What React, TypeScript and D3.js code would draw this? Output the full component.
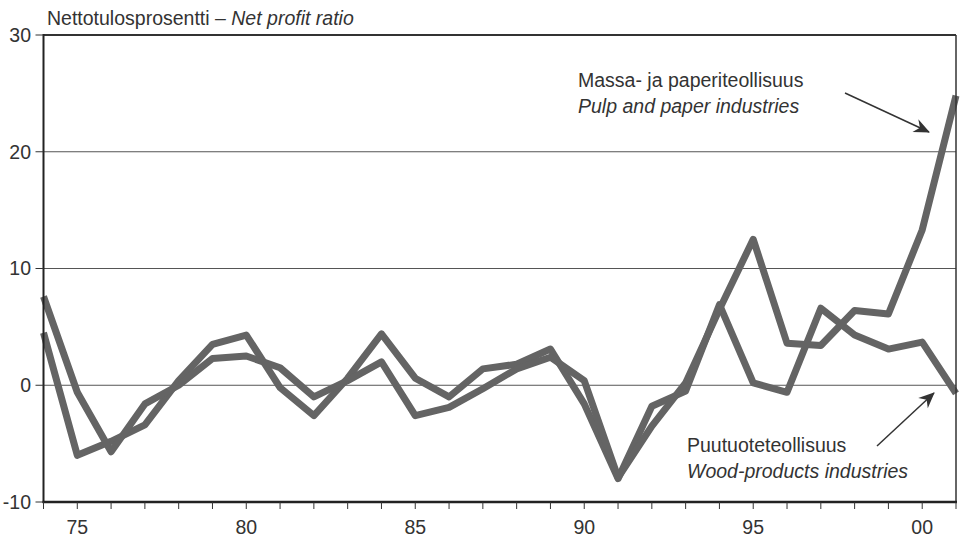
import React from "react";
import * as d3 from "d3";

const years = [1974, 1975, 1976, 1977, 1978, 1979, 1980, 1981, 1982, 1983, 1984, 1985, 1986, 1987, 1988, 1989, 1990, 1991, 1992, 1993, 1994, 1995, 1996, 1997, 1998, 1999, 2000, 2001];

const pulpPaper = [7.6, -0.6, -5.7, -1.6, 0.0, 2.3, 2.5, 1.5, -1.0, 0.4, 2.0, -2.6, -1.9, -0.3, 1.4, 2.4, 0.4, -7.9, -3.5, 0.2, 6.5, 12.5, 3.6, 3.4, 6.4, 6.1, 13.3, 24.8];
const woodProducts = [4.5, -6.0, -4.8, -3.4, 0.4, 3.5, 4.3, -0.2, -2.6, 0.6, 4.4, 0.6, -1.0, 1.4, 1.8, 3.1, -1.6, -8.0, -1.8, -0.5, 6.9, 0.2, -0.6, 6.6, 4.3, 3.1, 3.7, -0.7];

const yTicks = [-10, 0, 10, 20, 30];
const gridValues = [0, 10, 20];
const xLabelYears = [1975, 1980, 1985, 1990, 1995, 2000];
const xLabels = ["75", "80", "85", "90", "95", "00"];

const W = 962;
const H = 538;
const left = 43.5;
const right = 956;
const top = 35;
const bottom = 502;

const FONT = "Arial, 'Liberation Sans', Helvetica, sans-serif";
const TEXT = "#333";
const LINE = "#646464";

export default function App() {
  const x = d3.scaleLinear().domain([1974, 2001]).range([left, right]);
  const y = d3.scaleLinear().domain([-10, 30]).range([bottom, top]);

  const line = d3
    .line<number>()
    .x((_, i) => x(years[i]))
    .y((d) => y(d));

  const tickYears = years.slice(0, years.length);

  return (
    <svg
      width={W}
      height={H}
      style={{ position: "absolute", left: 0, top: 0, background: "#fff" }}
      fontFamily={FONT}
    >
      <defs>
        <marker
          id="arrow"
          viewBox="-16 -8 18 16"
          refX={0}
          refY={0}
          markerWidth={18}
          markerHeight={16}
          markerUnits="userSpaceOnUse"
          orient="auto"
        >
          <path d="M1,0 L-15,-7 L-10,0 L-15,7 Z" fill="#333" />
        </marker>
      </defs>

      {/* gridlines */}
      {gridValues.map((v) => (
        <line key={"g" + v} x1={left} x2={right} y1={y(v)} y2={y(v)} stroke="#555" strokeWidth={1} />
      ))}

      {/* series */}
      <path d={line(woodProducts) || ""} fill="none" stroke={LINE} strokeWidth={7} strokeLinejoin="round" strokeLinecap="butt" />
      <path d={line(pulpPaper) || ""} fill="none" stroke={LINE} strokeWidth={7} strokeLinejoin="round" strokeLinecap="butt" />

      {/* frame */}
      <line x1={left} x2={right} y1={top} y2={top} stroke="#333" strokeWidth={2} />
      <line x1={right} x2={right} y1={top} y2={bottom} stroke="#333" strokeWidth={1.5} />
      <line x1={left} x2={left} y1={top - 1} y2={bottom + 1} stroke="#222" strokeWidth={2} />
      <line x1={left - 1} x2={right + 1} y1={bottom} y2={bottom} stroke="#222" strokeWidth={2.5} />

      {/* y ticks */}
      {yTicks.map((v) => (
        <g key={"y" + v}>
          <line x1={left - 8} x2={left} y1={y(v)} y2={y(v)} stroke="#333" strokeWidth={1} />
          <text x={31} y={y(v)} dy="0.35em" textAnchor="end" fontSize={19.5} fill={TEXT}>
            {v}
          </text>
        </g>
      ))}

      {/* x ticks */}
      {tickYears.map((yr) => (
        <line key={"t" + yr} x1={x(yr)} x2={x(yr)} y1={bottom} y2={bottom + 7} stroke="#333" strokeWidth={1} />
      ))}
      {xLabelYears.map((yr, i) => (
        <text key={"xl" + yr} x={x(yr)} y={534} textAnchor="middle" fontSize={19.5} fill={TEXT}>
          {xLabels[i]}
        </text>
      ))}

      {/* title */}
      <text x={47} y={25} fontSize={19.5} fill={TEXT}>
        Nettotulosprosentti – <tspan fontStyle="italic">Net profit ratio</tspan>
      </text>

      {/* annotations */}
      <text x={578} y={87} fontSize={19.5} fill={TEXT}>
        Massa- ja paperiteollisuus
      </text>
      <text x={578} y={113} fontSize={19.5} fill={TEXT} fontStyle="italic">
        Pulp and paper industries
      </text>
      <line x1={845} y1={93} x2={929} y2={132} stroke="#333" strokeWidth={1.5} markerEnd="url(#arrow)" />

      <text x={687} y={452} fontSize={19.5} fill={TEXT}>
        Puutuoteteollisuus
      </text>
      <text x={687} y={478} fontSize={19.5} fill={TEXT} fontStyle="italic">
        Wood-products industries
      </text>
      <line x1={877} y1={446} x2={934} y2={393} stroke="#333" strokeWidth={1.5} markerEnd="url(#arrow)" />
    </svg>
  );
}
